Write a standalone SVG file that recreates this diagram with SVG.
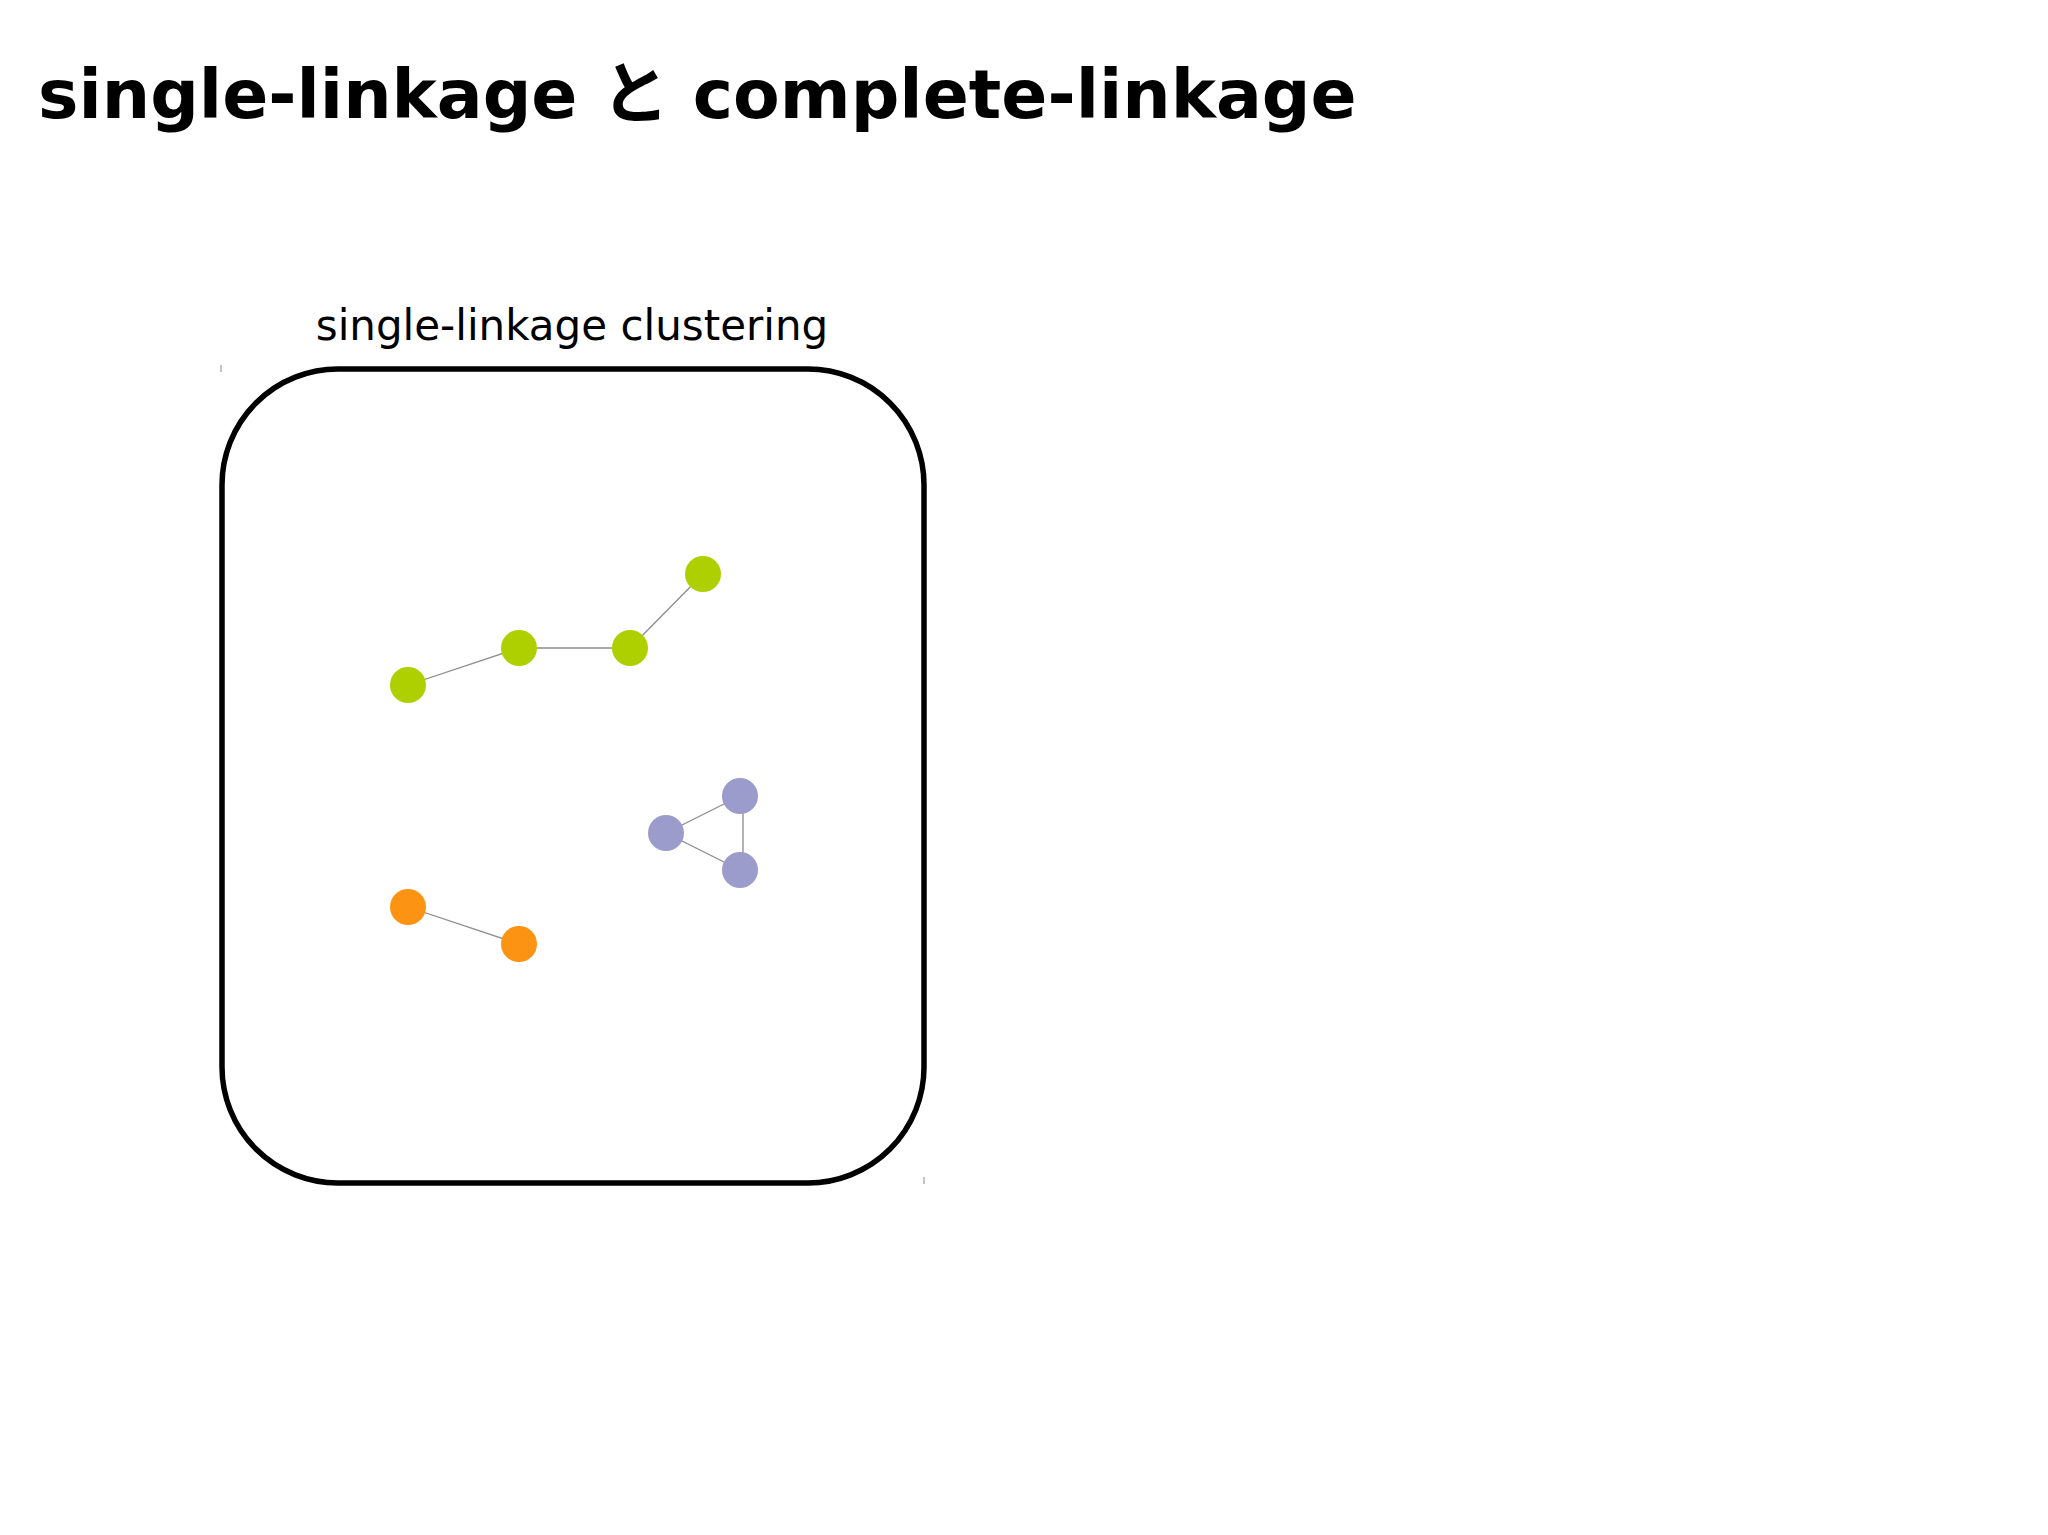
<svg xmlns="http://www.w3.org/2000/svg" width="2048" height="1535" viewBox="0 0 2048 1535">
<style>
.n{stroke:none}.g{fill:#aed000}.p{fill:#9c9ccc}.o{fill:#fd9312}
.e{stroke:#8c8c8c;stroke-width:1.3;fill:none}
</style>
<rect width="2048" height="1535" fill="#fff"/>
<text x="38" y="118" font-family="'DejaVu Sans','Noto Sans CJK JP',sans-serif" font-weight="bold" font-size="68" fill="#000">single-linkage と complete-linkage</text>
<text x="572" y="340" text-anchor="middle" font-family="'DejaVu Sans','Noto Sans CJK JP',sans-serif" font-size="42" fill="#000">single-linkage clustering</text>
<rect x="222" y="369" width="702" height="814" rx="116" ry="116" fill="none" stroke="#000" stroke-width="5.5"/>
<line x1="221" y1="365" x2="221" y2="372" stroke="#888" stroke-width="1"/>
<line x1="924" y1="1177" x2="924" y2="1184" stroke="#888" stroke-width="1"/>
<g id="connectors">
<line class="e" x1="408" y1="685" x2="519" y2="648"/>
<line class="e" x1="519" y1="648" x2="630" y2="648"/>
<line class="e" x1="630" y1="648" x2="703" y2="574"/>
<line class="e" x1="666" y1="833" x2="740" y2="796"/>
<line class="e" x1="666" y1="833" x2="740" y2="870"/>
<line class="e" x1="743" y1="796" x2="743" y2="870"/>
<line class="e" x1="408" y1="907" x2="519" y2="944"/>
</g>
<g id="g1"><circle class="n g" cx="408" cy="685" r="18"/></g>
<g id="g2"><circle class="n g" cx="519" cy="648" r="18"/></g>
<g id="g3"><circle class="n g" cx="630" cy="648" r="18"/></g>
<g id="g4"><circle class="n g" cx="703" cy="574" r="18"/></g>
<g id="p1"><circle class="n p" cx="666" cy="833" r="18"/></g>
<g id="p2"><circle class="n p" cx="740" cy="796" r="18"/></g>
<g id="p3"><circle class="n p" cx="740" cy="870" r="18"/></g>
<g id="o1"><circle class="n o" cx="408" cy="907" r="18"/></g>
<g id="o2"><circle class="n o" cx="519" cy="944" r="18"/></g>
</svg>
